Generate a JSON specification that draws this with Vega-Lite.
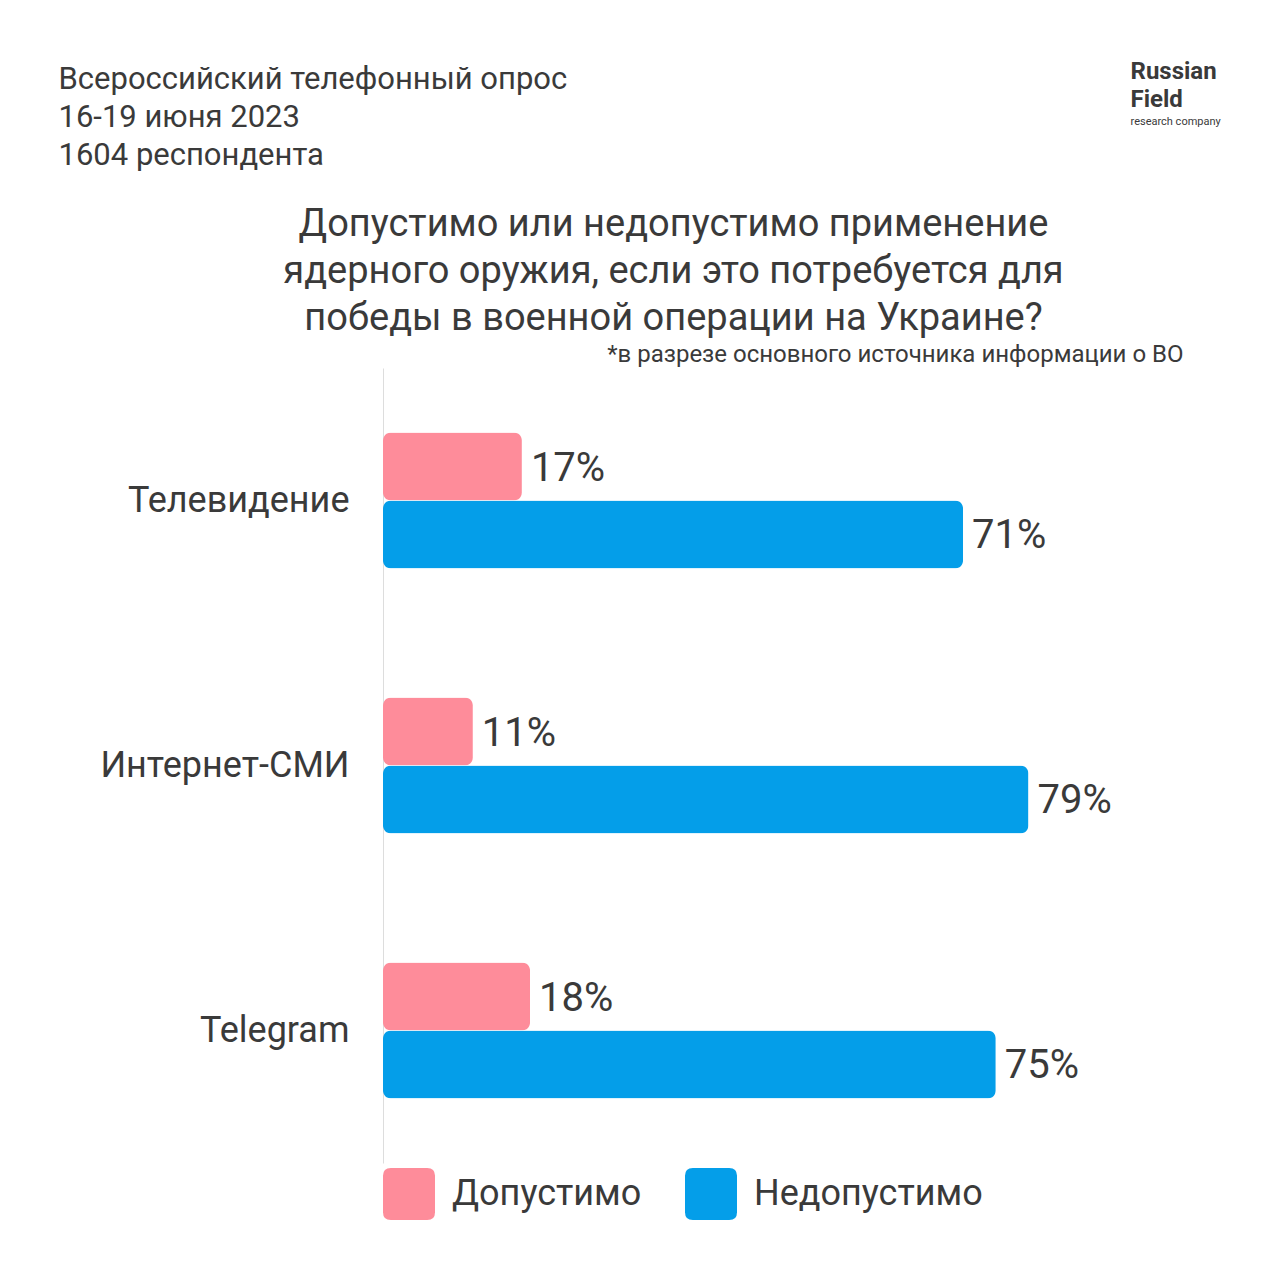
{
  "$schema": "https://vega.github.io/schema/vega-lite/v6.json",
  "width": 817,
  "height": 795,
  "autosize": {"type": "none"},
  "padding": {"left": 383, "top": 368, "right": 79, "bottom": 116},
  "background": "#ffffff",
  "config": {"view": {"stroke": null}, "font": "Roboto"},
  "title": {
    "text": ["Допустимо или недопустимо применение", "ядерного оружия, если это потребуется для", "победы в военной операции на Украине?"],
    "anchor": "middle",
    "frame": "group",
    "dx": -118,
    "dy": 283,
    "fontSize": 38,
    "fontWeight": "normal",
    "color": "#3a3a3a",
    "lineHeight": 47
  },
  "data": {
    "values": [
      {"source": "Телевидение", "answer": "Допустимо", "share": 0.17},
      {"source": "Телевидение", "answer": "Недопустимо", "share": 0.71},
      {"source": "Интернет-СМИ", "answer": "Допустимо", "share": 0.11},
      {"source": "Интернет-СМИ", "answer": "Недопустимо", "share": 0.79},
      {"source": "Telegram", "answer": "Допустимо", "share": 0.18},
      {"source": "Telegram", "answer": "Недопустимо", "share": 0.75}
    ]
  },
  "layer": [
    {
      "mark": {"type": "bar", "cornerRadius": 8},
      "encoding": {
        "y": {
          "field": "source", "type": "nominal", "sort": null,
          "scale": {"paddingInner": 0, "paddingOuter": 0},
          "axis": {
            "orient": "left",
            "title": ["Всероссийский телефонный опрос", "16-19 июня 2023", "1604 респондента"],
            "titleAngle": 0, "titleAlign": "left", "titleBaseline": "alphabetic",
            "titleX": -325, "titleY": -280,
            "titleFontSize": 31, "titleFontWeight": "normal", "titleColor": "#3a3a3a", "titleLineHeight": 38,
            "labelFontSize": 36, "labelColor": "#3a3a3a", "labelPadding": 34, "labelLimit": 400,
            "ticks": false, "tickSize": 0, "domain": true, "domainColor": "#dddddd", "domainWidth": 1, "grid": false
          }
        },
        "yOffset": {
          "field": "answer", "type": "nominal", "sort": ["Допустимо", "Недопустимо"],
          "scale": {"paddingInner": 0, "paddingOuter": 0.95}
        },
        "x": {
          "field": "share", "type": "quantitative", "scale": {"domain": [0, 1]},
          "axis": {
            "orient": "top", "labels": false, "ticks": false, "domain": false, "grid": false,
            "title": "*в разрезе основного источника информации о ВО",
            "titleX": 800, "titleY": -7, "titleAlign": "right", "titleBaseline": "alphabetic",
            "titleFontSize": 24, "titleFontWeight": "normal", "titleColor": "#3a3a3a"
          }
        },
        "color": {
          "field": "answer", "type": "nominal",
          "scale": {"domain": ["Допустимо", "Недопустимо"], "range": ["#fe8c9a", "#049ee9"]},
          "legend": {
            "orient": "none", "legendX": 0, "legendY": 800, "direction": "horizontal", "title": null,
            "symbolType": "M-1,-0.7Q-1,-1,-0.7,-1L0.7,-1Q1,-1,1,-0.7L1,0.7Q1,1,0.7,1L-0.7,1Q-1,1,-1,0.7Z",
            "symbolSize": 2704, "symbolStrokeWidth": 0, "symbolOpacity": 1,
            "labelFontSize": 36, "labelColor": "#3a3a3a", "labelOffset": 17, "labelLimit": 400, "columnPadding": 43
          }
        }
      }
    },
    {
      "mark": {"type": "text", "align": "left", "baseline": "middle", "dx": 9, "dy": 2, "fontSize": 40, "color": "#3a3a3a"},
      "encoding": {
        "y": {
          "field": "source", "type": "nominal", "sort": null,
          "axis": {
            "orient": "right", "labels": false, "ticks": false, "domain": false, "grid": false,
            "title": ["Russian", "Field"],
            "titleAngle": 0, "titleAlign": "left", "titleBaseline": "alphabetic",
            "titleX": -70, "titleY": -290,
            "titleFontSize": 24, "titleFontWeight": "bold", "titleColor": "#3a3a3a", "titleLineHeight": 28
          }
        },
        "yOffset": {"field": "answer", "type": "nominal", "sort": ["Допустимо", "Недопустимо"]},
        "x": {
          "field": "share", "type": "quantitative",
          "axis": {
            "orient": "bottom", "labels": false, "ticks": false, "domain": false, "grid": false,
            "title": "research company",
            "titleX": 747, "titleY": -1039, "titleAlign": "left", "titleBaseline": "alphabetic",
            "titleFontSize": 11, "titleFontWeight": "normal", "titleColor": "#3a3a3a"
          }
        },
        "text": {"field": "share", "type": "quantitative", "format": ".0%"}
      }
    }
  ],
  "resolve": {"axis": {"x": "independent", "y": "independent"}}
}
